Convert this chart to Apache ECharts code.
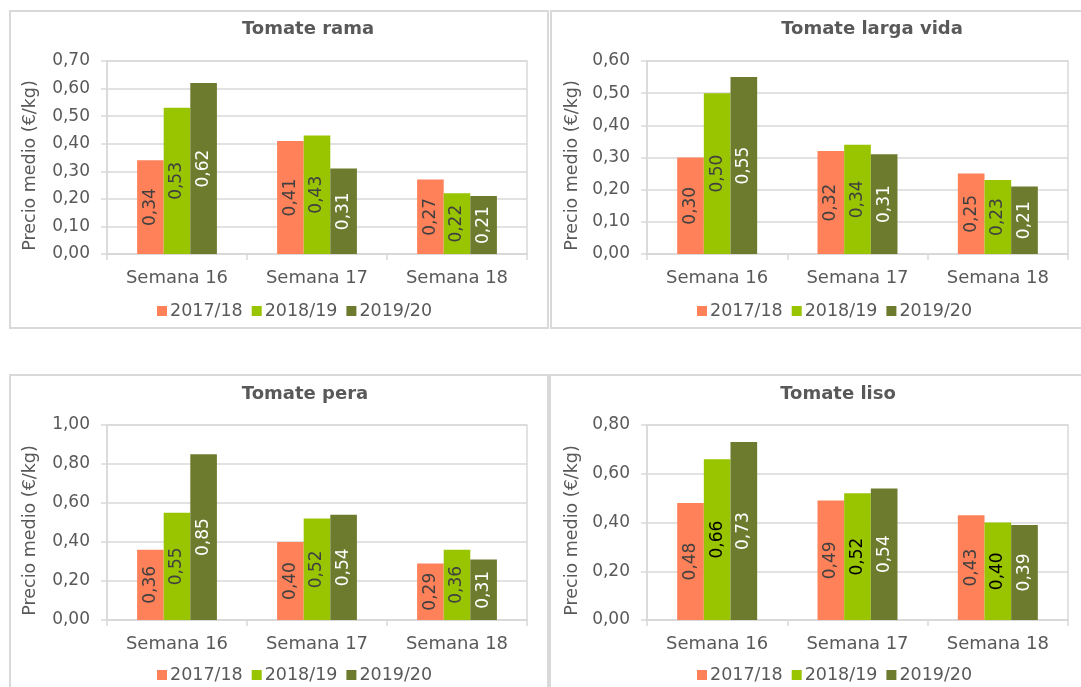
<!DOCTYPE html>
<html>
<head>
<meta charset="utf-8">
<script src="https://cdn.jsdelivr.net/npm/echarts@6/dist/echarts.min.js"></script>
<style>
html,body{margin:0;padding:0;background:#fff;width:1081px;height:687px;overflow:hidden;}
#chart{position:absolute;left:0;top:0;width:1081px;height:687px;}
.box{position:absolute;border:2px solid #d9d9d9;box-sizing:border-box;pointer-events:none;}
</style>
</head>
<body>
<div class="box" style="left:9px;top:10px;width:540px;height:319px;"></div>
<div class="box" style="left:550px;top:10px;width:545px;height:319px;"></div>
<div class="box" style="left:9px;top:374px;width:540px;height:330px;"></div>
<div class="box" style="left:549px;top:374px;width:545px;height:330px;"></div>
<div id="chart"></div>
<script>
// ---- data ----
const categories = ['Semana 16', 'Semana 17', 'Semana 18'];
const seasons = ['2017/18', '2018/19', '2019/20'];
const titles = ['Tomate rama', 'Tomate larga vida', 'Tomate pera', 'Tomate liso'];
const yAxisName = 'Precio medio (€/kg)';

const rama1718 = [0.34, 0.41, 0.27];
const rama1819 = [0.53, 0.43, 0.22];
const rama1920 = [0.62, 0.31, 0.21];

const largaVida1718 = [0.30, 0.32, 0.25];
const largaVida1819 = [0.50, 0.34, 0.23];
const largaVida1920 = [0.55, 0.31, 0.21];

const pera1718 = [0.36, 0.40, 0.29];
const pera1819 = [0.55, 0.52, 0.36];
const pera1920 = [0.85, 0.54, 0.31];

const liso1718 = [0.48, 0.49, 0.43];
const liso1819 = [0.66, 0.52, 0.40];
const liso1920 = [0.73, 0.54, 0.39];

const yMax = [0.7, 0.6, 1.0, 0.8];
const yStep = [0.1, 0.1, 0.2, 0.2];

// ---- styling / layout ----
const panelData = [
  [rama1718, rama1819, rama1920],
  [largaVida1718, largaVida1819, largaVida1920],
  [pera1718, pera1819, pera1920],
  [liso1718, liso1819, liso1920]
];
const layout = [
  {gx:107, gy:61,  gw:420, gh:193, tx:308, ty:28,  lx:297, ly:311, ng:68},
  {gx:647, gy:61,  gw:421, gh:193, tx:872, ty:28,  lx:837, ly:311, ng:66},
  {gx:107, gy:425, gw:420, gh:195, tx:305, ty:393, lx:297, ly:675, ng:68},
  {gx:647, gy:425, gw:421, gh:195, tx:838, ty:393, lx:837, ly:675, ng:66}
];
const colors = ['#FF8159', '#99C400', '#6D7B2F'];
const labelColors = [
  ['#404040', '#404040', '#ffffff'],
  ['#404040', '#404040', '#ffffff'],
  ['#404040', '#404040', '#ffffff'],
  ['#404040', '#000000', '#ffffff']
];
const FONT = 'DejaVu Sans';
const txt = '#595959';
const gridCol = '#d9d9d9';
const fmt = v => v.toFixed(2).replace('.', ',');

const option = {
  animation: false,
  color: colors,
  title: [], legend: [], grid: [], xAxis: [], yAxis: [], series: []
};

layout.forEach((L, i) => {
  option.title.push({
    text: titles[i], left: L.tx, top: L.ty - 8, textAlign: 'center', padding: 0,
    textStyle: {fontFamily: FONT, fontSize: 18, fontWeight: 'bold', color: txt}
  });
  option.legend.push({
    data: seasons, left: L.lx - 140, top: L.ly - 9, padding: 0,
    itemWidth: 10, itemHeight: 10, itemGap: 9, icon: 'rect',
    textStyle: {fontFamily: FONT, fontSize: 17.5, color: txt, padding: [0, 0, 0, -2]}
  });
  option.grid.push({
    left: L.gx, top: L.gy, width: L.gw, height: L.gh,
    show: true, borderColor: gridCol, borderWidth: 1.5, containLabel: false
  });
  option.xAxis.push({
    type: 'category', gridIndex: i, data: categories,
    axisLine: {show: true, lineStyle: {color: gridCol, width: 1.5}},
    axisTick: {show: true, length: 6, lineStyle: {color: gridCol, width: 1.5}},
    axisLabel: {fontFamily: FONT, fontSize: 18, color: txt, margin: 15}
  });
  option.yAxis.push({
    type: 'value', gridIndex: i, min: 0, max: yMax[i], interval: yStep[i],
    name: yAxisName, nameLocation: 'middle', nameGap: L.ng,
    nameTextStyle: {fontFamily: FONT, fontSize: 17.5, color: txt, padding: [0, 16, 0, 0]},
    axisLine: {show: true, lineStyle: {color: gridCol, width: 1.5}},
    axisTick: {show: true, length: 6, lineStyle: {color: gridCol, width: 1.5}},
    splitLine: {show: true, lineStyle: {color: gridCol, width: 1.5}},
    axisLabel: {fontFamily: FONT, fontSize: 17, color: txt, margin: 17, formatter: fmt}
  });
  seasons.forEach((s, k) => {
    option.series.push({
      type: 'bar', name: s, xAxisIndex: i, yAxisIndex: i,
      data: panelData[i][k],
      barGap: '0%', barCategoryGap: '43%',
      itemStyle: {color: colors[k]},
      label: {
        show: true, position: ['50%', '50%'], rotate: 90,
        align: 'center', verticalAlign: 'middle',
        fontFamily: FONT, fontSize: 17, color: labelColors[i][k],
        textBorderWidth: 0,
        formatter: p => fmt(p.value)
      }
    });
  });
});

const chart = echarts.init(document.getElementById('chart'), null, {renderer: 'canvas'});
chart.setOption(option);
</script>
</body>
</html>
